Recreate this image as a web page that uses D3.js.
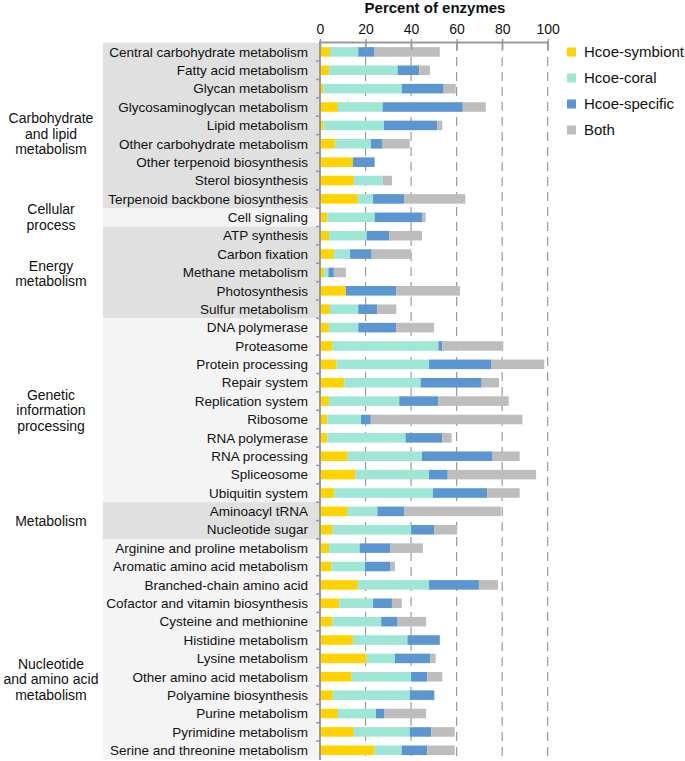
<!DOCTYPE html>
<html>
<head>
<meta charset="utf-8">
<script src="https://cdn.jsdelivr.net/npm/d3@7"></script>
<style>
  body { margin: 0; background: #fff; }
  svg { display: block; font-family: "Liberation Sans", Arial, Helvetica, sans-serif; }
</style>
</head>
<body>
<svg id="chart" width="685" height="761"></svg>
<script>
const categories = [
  "Central carbohydrate metabolism","Fatty acid metabolism","Glycan metabolism","Glycosaminoglycan metabolism",
  "Lipid metabolism","Other carbohydrate metabolism","Other terpenoid biosynthesis","Sterol biosynthesis",
  "Terpenoid backbone biosynthesis","Cell signaling","ATP synthesis","Carbon fixation","Methane metabolism",
  "Photosynthesis","Sulfur metabolism","DNA polymerase","Proteasome","Protein processing","Repair system",
  "Replication system","Ribosome","RNA polymerase","RNA processing","Spliceosome","Ubiquitin system",
  "Aminoacyl tRNA","Nucleotide sugar","Arginine and proline metabolism","Aromatic amino acid metabolism",
  "Branched-chain amino acid","Cofactor and vitamin biosynthesis","Cysteine and methionine","Histidine metabolism",
  "Lysine metabolism","Other amino acid metabolism","Polyamine biosynthesis","Purine metabolism",
  "Pyrimidine metabolism","Serine and threonine metabolism"
];
const groupNames = ["Carbohydrate and lipid metabolism","Cellular process","Energy metabolism",
  "Genetic information processing","Metabolism","Nucleotide and amino acid metabolism"];
const groupLines = [["Carbohydrate","and lipid","metabolism"],["Cellular","process"],["Energy","metabolism"],
  ["Genetic","information","processing"],["Metabolism"],["Nucleotide","and amino acid","metabolism"]];
const groupSizes = [9, 1, 5, 10, 2, 12];

const seriesNames = ["Hcoe-symbiont","Hcoe-coral","Hcoe-specific","Both"];
const symbiont = [4.4,4.0,1.5,7.9,1.5,6.7,14.5,14.9,16.8,3.2,4.0,6.3,1.9,11.4,4.4,4.0,5.6,7.3,10.8,4.0,3.2,3.2,12.2,15.7,6.3,12.2,5.6,4.0,5.1,16.8,8.6,5.6,14.6,20.5,13.9,5.6,7.9,14.9,24.0];
const coral    = [12.4,30.1,34.4,19.6,26.6,15.6,0,12.6,6.5,20.8,16.5,6.9,1.8,0,12.4,12.8,46.4,40.6,33.4,30.8,14.8,34.4,32.6,32.2,43.3,13.0,34.4,13.4,14.7,31.1,14.7,21.3,23.8,12.4,26.1,33.8,16.7,24.5,11.9];
const specific = [7.2,9.5,18.4,35.2,23.3,5.2,9.5,0,13.7,20.8,10.0,9.5,2.4,22.1,8.4,16.7,1.7,27.2,26.8,17.2,4.3,16.1,31.0,8.2,23.8,11.8,10.1,13.6,11.2,21.9,8.3,7.2,14.2,15.4,7.1,10.8,3.5,9.5,11.2];
const both     = [28.6,4.7,5.3,10.1,2.3,11.9,0,4.1,26.8,1.6,14.3,17.3,5.3,28.0,8.3,16.6,26.8,23.4,7.6,30.9,66.6,4.1,11.9,38.8,14.3,42.4,10.1,14.2,1.9,8.4,4.3,12.5,0,2.5,6.6,0,18.5,10.3,12.1];
const xTicks = [0, 20, 40, 60, 80, 100];
const axisTitle = "Percent of enzymes";

const colors = ["#FFD300", "#9EE6D6", "#5B96D0", "#BDBDBD"];
const bandFills = ["#E0E0E0", "#F4F4F4"];
const groupLabelShift = [8.5, 0, 1, 0, 0.5, 30];

const svg = d3.select("#chart");
const x = d3.scaleLinear().domain([0, 100]).range([320, 547.7]);
const y = d3.scaleBand().domain(categories).range([42.7, 759.5]).paddingInner(0.48).paddingOuter(0.24);
const step = y.step();

// group background bands
let start = 0;
const groups = groupSizes.map((n, i) => {
  const g = { name: groupNames[i], lines: groupLines[i], first: categories[start], last: categories[start + n - 1], idx: i };
  start += n;
  return g;
});
const bandTop = c => y(c) - (step - y.bandwidth()) / 2;
svg.append("g").selectAll("rect").data(groups).join("rect")
  .attr("x", 103).attr("width", 320 - 103)
  .attr("y", d => bandTop(d.first))
  .attr("height", d => bandTop(d.last) + step - bandTop(d.first))
  .attr("fill", d => bandFills[d.idx % 2]);

// group labels (one text per line)
const glines = [];
groups.forEach(d => {
  const cy = (bandTop(d.first) + bandTop(d.last) + step) / 2 + groupLabelShift[d.idx];
  const lh = 15.5;
  const n = d.lines.length;
  d.lines.forEach((t, j) => glines.push({ t, y: cy + (j - (n - 1) / 2) * lh }));
});
svg.append("g").selectAll("text").data(glines).join("text")
  .attr("x", 51).attr("y", d => d.y).attr("dy", "0.35em")
  .attr("text-anchor", "middle").attr("font-size", 14).attr("fill", "#111")
  .text(d => d.t);

// gridlines
svg.append("g").selectAll("line").data(xTicks.filter(t => t > 0)).join("line")
  .attr("x1", d => x(d)).attr("x2", d => x(d))
  .attr("y1", 42).attr("y2", 758)
  .attr("stroke", "#9a9a9a").attr("stroke-width", 1.2).attr("stroke-dasharray", "9,6");

// stacked bars
const rows = categories.map((c, i) => ({ cat: c, "Hcoe-symbiont": symbiont[i], "Hcoe-coral": coral[i], "Hcoe-specific": specific[i], "Both": both[i] }));
const stacked = d3.stack().keys(seriesNames)(rows);
svg.append("g").selectAll("g").data(stacked).join("g")
  .attr("fill", (d, i) => colors[i])
  .selectAll("rect").data(d => d).join("rect")
  .attr("x", d => x(d[0]))
  .attr("width", d => Math.max(0, x(d[1]) - x(d[0])))
  .attr("y", d => y(d.data.cat))
  .attr("height", y.bandwidth());

// category labels
svg.append("g").selectAll("text").data(categories).join("text")
  .attr("x", 308).attr("y", d => y(d) + y.bandwidth() / 2)
  .attr("dy", "0.35em").attr("text-anchor", "end")
  .attr("font-size", 13.5).attr("fill", "#111").text(d => d);

// y axis line + small ticks at boundaries
svg.append("line").attr("x1", 320).attr("x2", 320).attr("y1", 41).attr("y2", 760)
  .attr("stroke", "#9a9a9a").attr("stroke-width", 2);
svg.append("g").selectAll("line").data(categories.slice(1)).join("line")
  .attr("x1", 316).attr("x2", 320)
  .attr("y1", d => bandTop(d)).attr("y2", d => bandTop(d))
  .attr("stroke", "#9a9a9a").attr("stroke-width", 1.5);

// top x axis
const xAxis = d3.axisTop(x).tickValues(xTicks).tickSize(0).tickPadding(8);
const ax = svg.append("g").attr("transform", "translate(0,42)").call(xAxis);
ax.select(".domain").attr("stroke", "#9a9a9a").attr("stroke-width", 2);
ax.selectAll(".tick text").attr("font-size", 14).attr("fill", "#111")
  .attr("font-family", "\"Liberation Sans\", Arial, sans-serif");
ax.selectAll(".tick").append("line")
  .attr("y1", -3).attr("y2", 8).attr("stroke", "#9a9a9a").attr("stroke-width", 1.5);

svg.append("text").attr("x", 435).attr("y", 12.5).attr("text-anchor", "middle")
  .attr("font-size", 15).attr("font-weight", "bold").attr("fill", "#111").text(axisTitle);

// legend
const lg = svg.append("g").selectAll("g").data(seriesNames).join("g")
  .attr("transform", (d, i) => `translate(567,${52 + i * 26})`);
lg.append("rect").attr("x", 0).attr("y", -4.5).attr("width", 9).attr("height", 9)
  .attr("fill", (d, i) => colors[i]);
lg.append("text").attr("x", 17).attr("y", 0).attr("dy", "0.35em")
  .attr("font-size", 15).attr("fill", "#111").text(d => d);
</script>
</body>
</html>
